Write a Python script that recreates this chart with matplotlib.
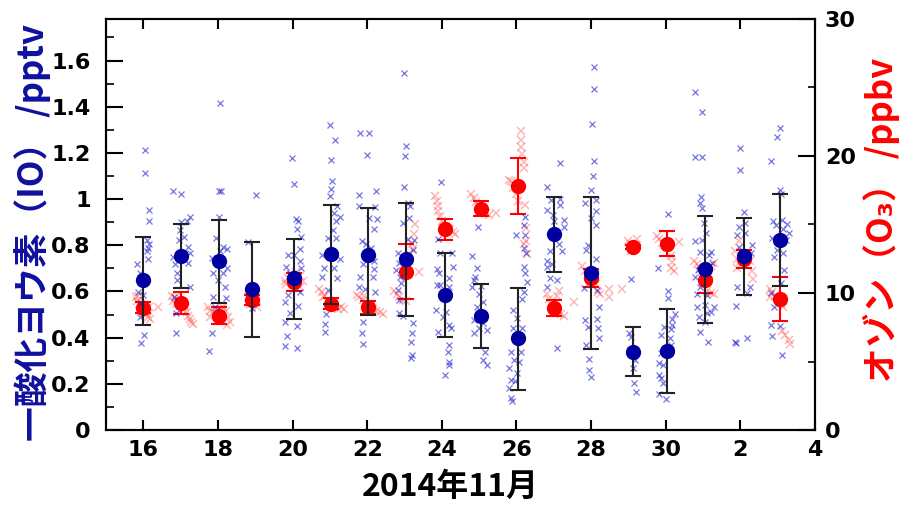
import numpy as np
import matplotlib
matplotlib.use('Agg')
import matplotlib.pyplot as plt
from matplotlib.ticker import MultipleLocator

# x = day number counted from 0 Nov 2014 (Dec 1 -> 31)
day_mean = [16.00, 17.02, 18.02, 18.91, 20.05, 21.02, 22.01, 23.04, 24.08,
            25.05, 26.05, 27.01, 28.01, 29.12, 30.02, 31.06, 32.09, 33.05]

# daily IO (pptv) mean and error bar ends
io_mean = [0.650, 0.755, 0.732, 0.609, 0.657, 0.761, 0.758, 0.741, 0.585,
           0.495, 0.397, 0.848, 0.682, 0.339, 0.342, 0.696, 0.754, 0.823]
io_lo = [0.455, 0.614, 0.549, 0.402, 0.481, 0.545, 0.498, 0.494, 0.402,
         0.357, 0.173, 0.683, 0.351, 0.234, 0.159, 0.462, 0.585, 0.625]
io_hi = [0.838, 0.893, 0.910, 0.813, 0.828, 0.975, 0.960, 0.982, 0.765,
         0.633, 0.617, 1.011, 1.011, 0.445, 0.523, 0.927, 0.917, 1.021]

# daily O3 (ppbv) mean and error
o3_mean = [8.91, 9.27, 8.35, 9.49, 10.80, 9.20, 8.95, 11.55, 14.65,
           16.14, 17.79, 8.91, 11.09, 13.36, 13.60, 10.94, 12.47, 9.56]
o3_err = [0.40, 0.80, 0.62, 0.36, 0.65, 0.40, 0.45, 2.00, 0.76,
          0.55, 2.03, 0.58, 0.63, 0.15, 0.92, 0.92, 0.68, 1.58]

# individual IO measurements
io_t = [16.04, 16.04, 16.16, 16.14, 16.11, 16.14, 16.12, 16.09, 16.13, 15.84, 15.91, 15.86, 16.00, 15.95, 15.91, 16.02, 15.93,
        16.80, 17.02, 17.25, 17.02, 17.16, 16.98, 17.09, 16.96, 17.20, 17.25, 16.80, 17.20, 16.85, 16.91, 17.25, 16.83, 16.87, 16.87, 16.91,
        18.05, 18.02, 18.07, 18.03, 17.96, 18.14, 18.24, 17.83, 18.05, 18.23, 17.87, 18.14, 18.00, 18.18, 17.87, 18.21, 17.91, 17.83, 17.76,
        19.03, 18.80, 18.91,
        19.99, 20.03, 20.08, 20.14, 20.12, 20.23, 20.21, 19.88, 20.05, 19.83, 20.21, 20.23, 19.92, 20.19, 19.88, 19.81, 20.14, 19.92, 19.79, 20.12, 19.85, 19.80, 20.11,
        21.00, 21.15, 21.04, 21.07, 21.02, 21.00, 21.20, 21.26, 21.12, 21.17, 21.08, 21.17, 20.94, 21.26, 20.78, 20.84, 21.12, 20.78, 21.20, 20.94, 20.90, 20.87, 20.87,
        21.81, 22.06, 21.99, 21.79, 22.24, 21.77, 22.22, 22.06, 22.26, 22.19, 21.86, 21.97, 22.10, 22.19, 21.88, 22.19, 21.81, 22.15, 21.77, 21.95, 22.22, 21.90, 21.86, 21.88,
        22.99, 23.04, 23.02, 22.98, 23.08, 23.16, 23.13, 22.95, 23.26, 23.08, 23.22, 22.82, 22.86, 22.77, 22.88, 22.91, 22.82, 22.86, 22.84, 22.95, 23.22, 23.20, 23.17, 23.20, 23.17,
        23.99, 23.89, 23.95, 24.27, 23.86, 24.29, 23.93, 24.18, 23.86, 23.96, 24.20, 23.84, 24.11, 24.02, 24.20, 24.24, 23.91, 24.18, 24.16, 24.20, 24.18, 24.09,
        24.97, 24.82, 24.94, 24.89, 24.85, 24.82, 25.04, 25.00, 25.09, 24.94, 24.87, 25.09, 25.00, 25.21, 24.87, 25.15, 25.09, 25.21,
        26.23, 26.20, 25.98, 26.22, 26.19, 26.25, 26.19, 26.23, 26.27, 26.19, 26.16, 25.92, 26.01, 26.16, 25.92, 25.85, 26.11, 25.94, 26.07, 25.80, 26.01, 25.85, 25.96, 25.80, 25.86, 25.87,
        27.16, 26.81, 27.17, 26.92, 27.17, 26.81, 26.99, 27.26, 27.01, 27.26, 26.96, 27.14, 27.23, 26.90, 26.81, 26.96, 26.81, 26.90, 27.08, 26.83, 27.09,
        28.07, 28.07, 28.03, 28.09, 28.05, 28.00, 28.12, 27.83, 28.14, 27.99, 28.14, 27.85, 27.92, 28.12, 27.81, 28.16, 28.21, 27.83, 28.16, 28.19, 27.92, 28.21, 27.87, 27.94, 27.94, 27.99,
        29.06, 29.01, 29.06, 29.17, 29.12, 29.14, 29.19, 29.03,
        30.06, 29.80, 30.06, 30.06, 30.24, 30.17, 30.17, 29.95, 30.15, 30.12, 29.86, 30.15, 29.88, 29.83, 29.92, 29.81, 29.88, 29.92, 29.83, 30.01,
        30.79, 30.97, 30.79, 30.97, 30.95, 30.93, 30.97, 31.02, 31.09, 30.79, 30.97, 30.91, 31.20, 31.15, 31.24, 30.86, 30.79, 30.93, 30.84, 31.11, 30.84, 31.06, 31.28, 30.88, 31.11, 31.20, 31.06, 30.93, 31.12,
        31.99, 31.99, 32.09, 32.13, 31.95, 32.13, 31.91, 32.31, 31.95, 32.28, 31.91, 32.25, 32.18, 31.89, 31.86, 31.89, 32.18,
        33.05, 32.99, 32.82, 33.05, 33.08, 32.87, 33.11, 32.96, 33.24, 33.14, 33.29, 32.84, 33.23, 33.08, 32.99, 33.15, 32.89, 33.17, 33.08, 32.82, 32.89, 32.82, 33.07, 32.84, 33.11]
io_v = [1.213, 1.115, 0.953, 0.905, 0.823, 0.806, 0.789, 0.777, 0.741, 0.718, 0.679, 0.597, 0.585, 0.549, 0.488, 0.410, 0.376,
        1.033, 1.022, 0.924, 0.900, 0.903, 0.867, 0.838, 0.823, 0.794, 0.765, 0.751, 0.722, 0.719, 0.679, 0.621, 0.578, 0.506, 0.422, 0.650,
        1.415, 1.036, 1.033, 0.924, 0.830, 0.794, 0.783, 0.744, 0.777, 0.701, 0.679, 0.679, 0.650, 0.621, 0.578, 0.571, 0.534, 0.419, 0.344,
        1.017, 0.816, 0.527,
        1.177, 1.064, 0.914, 0.903, 0.870, 0.838, 0.784, 0.758, 0.758, 0.708, 0.732, 0.701, 0.679, 0.597, 0.585, 0.556, 0.537, 0.506, 0.469, 0.451, 0.407, 0.364, 0.354,
        1.319, 1.256, 1.170, 1.078, 1.043, 1.015, 0.972, 0.924, 0.939, 0.903, 0.867, 0.830, 0.830, 0.741, 0.758, 0.701, 0.701, 0.664, 0.657, 0.607, 0.503, 0.459, 0.426,
        1.285, 1.285, 1.192, 1.017, 1.036, 0.972, 0.965, 0.917, 0.914, 0.871, 0.819, 0.806, 0.787, 0.734, 0.719, 0.699, 0.662, 0.662, 0.621, 0.610, 0.597, 0.469, 0.419, 0.371,
        1.546, 1.231, 1.187, 1.054, 0.982, 0.972, 0.917, 0.896, 0.823, 0.826, 0.780, 0.765, 0.725, 0.693, 0.662, 0.636, 0.607, 0.563, 0.508, 0.494, 0.462, 0.419, 0.383, 0.325, 0.311,
        1.072, 0.828, 0.765, 0.765, 0.699, 0.708, 0.679, 0.657, 0.628, 0.628, 0.618, 0.520, 0.513, 0.488, 0.455, 0.441, 0.426, 0.368, 0.339, 0.296, 0.282, 0.238,
        0.877, 0.755, 0.701, 0.664, 0.650, 0.621, 0.624, 0.588, 0.556, 0.534, 0.477, 0.462, 0.441, 0.433, 0.419, 0.339, 0.303, 0.282,
        0.924, 0.888, 0.845, 0.845, 0.787, 0.765, 0.708, 0.679, 0.643, 0.599, 0.566, 0.520, 0.484, 0.441, 0.441, 0.339, 0.339, 0.303, 0.296, 0.267, 0.246, 0.217, 0.214, 0.181, 0.137, 0.126,
        1.158, 1.054, 1.000, 0.997, 0.975, 0.953, 0.932, 0.910, 0.903, 0.881, 0.845, 0.806, 0.777, 0.776, 0.734, 0.719, 0.708, 0.657, 0.650, 0.621, 0.354,
        1.574, 1.477, 1.325, 1.166, 1.098, 1.040, 0.994, 0.985, 0.950, 0.920, 0.888, 0.780, 0.802, 0.740, 0.614, 0.607, 0.532, 0.477, 0.480, 0.441, 0.448, 0.397, 0.368, 0.306, 0.260, 0.231,
        0.653, 0.419, 0.404, 0.303, 0.267, 0.202, 0.166, 0.347,
        0.935, 0.703, 0.604, 0.571, 0.503, 0.480, 0.455, 0.445, 0.436, 0.397, 0.412, 0.368, 0.332, 0.289, 0.282, 0.238, 0.224, 0.202, 0.156, 0.133,
        1.463, 1.377, 1.184, 1.184, 1.011, 0.982, 0.960, 0.898, 0.855, 0.820, 0.823, 0.773, 0.773, 0.758, 0.725, 0.693, 0.664, 0.621, 0.589, 0.585, 0.534, 0.542, 0.534, 0.491, 0.506, 0.513, 0.469, 0.426, 0.383,
        1.220, 1.124, 0.946, 0.898, 0.881, 0.852, 0.845, 0.802, 0.794, 0.765, 0.621, 0.621, 0.592, 0.537, 0.383, 0.376, 0.397,
        1.307, 1.268, 1.163, 1.040, 1.022, 0.907, 0.910, 0.888, 0.893, 0.870, 0.852, 0.830, 0.823, 0.809, 0.780, 0.765, 0.751, 0.693, 0.636, 0.592, 0.534, 0.455, 0.451, 0.407, 0.325]

# individual O3 measurements
o3_t = [15.80, 15.84, 15.89, 15.93, 15.98, 16.04, 16.09, 16.13, 16.18, 16.40, 15.86, 16.16,
        16.76, 16.80, 16.89, 16.98, 17.11, 17.16, 17.20, 17.25, 17.29, 16.85, 17.05, 17.32,
        17.74, 17.80, 17.87, 17.94, 18.05, 18.14, 18.21, 18.27, 18.23, 18.32, 17.78, 18.00,
        18.81, 18.88, 18.97, 19.05, 18.85,
        19.79, 19.88, 19.96, 20.10, 20.19, 20.28, 20.01, 20.19, 19.83,
        20.72, 20.78, 20.86, 20.94, 21.03, 21.12, 21.21, 21.30, 21.39, 20.81,
        21.72, 21.79, 21.88, 21.97, 22.06, 22.15, 22.24, 22.33, 22.42, 21.92,
        22.73, 22.79, 22.86, 22.95, 23.04, 23.13, 23.20, 23.26, 23.29, 23.24, 23.40, 23.08,
        23.82, 23.86, 23.89, 23.91, 23.95, 24.00, 24.11, 24.20, 24.29, 24.36,
        24.78, 24.85, 24.91, 24.97, 25.09, 25.18, 25.27, 25.45,
        26.11, 26.11, 26.13, 26.16, 26.19, 26.20, 25.85, 25.92, 25.98, 26.03, 26.22, 26.25, 26.25, 26.27, 26.20, 25.80,
        26.81, 26.87, 26.93, 27.00, 27.09, 27.18, 27.27, 27.14, 27.08, 27.54,
        27.76, 27.83, 27.92, 28.03, 28.12, 28.19, 28.25, 28.48, 28.49, 28.83,
        28.99, 29.06, 29.12, 29.19, 29.23, 29.08,
        29.77, 29.83, 29.90, 29.97, 30.04, 30.13, 30.17, 30.21, 30.35, 30.15,
        30.75, 30.84, 30.93, 31.06, 31.20, 31.28, 31.11, 31.20, 31.28, 31.15,
        31.86, 31.91, 32.00, 32.09, 32.18, 32.26, 32.31, 32.34, 31.95, 31.91,
        32.78, 32.84, 32.93, 33.02, 33.08, 33.14, 33.11, 33.20, 33.29, 33.33, 32.80]
o3_v = [9.68, 9.44, 9.20, 8.96, 8.84, 8.71, 8.47, 8.23, 8.11, 8.96, 9.80, 8.96,
        9.80, 9.44, 9.20, 9.08, 8.96, 8.60, 8.35, 8.11, 7.87, 9.68, 8.84, 7.75,
        8.96, 8.71, 8.60, 8.47, 8.84, 8.96, 8.71, 8.23, 7.63, 7.87, 8.23, 8.11,
        9.68, 9.56, 9.32, 8.96, 9.20,
        10.89, 11.13, 11.38, 11.50, 11.25, 10.89, 10.65, 10.41, 10.65,
        10.29, 10.05, 9.80, 9.44, 9.20, 8.96, 8.84, 8.96, 8.84, 9.68,
        9.88, 9.68, 9.49, 9.20, 8.96, 8.84, 8.71, 8.60, 8.47, 9.80,
        10.17, 9.93, 9.68, 9.49, 9.39, 12.84, 13.56, 14.29, 15.01, 13.20, 11.50, 12.36,
        17.07, 16.71, 16.34, 15.98, 15.62, 15.25, 14.89, 14.65, 14.48, 14.33,
        17.24, 16.95, 16.66, 16.42, 16.10, 15.86, 15.69, 15.86,
        21.79, 21.19, 20.64, 20.11, 19.58, 19.14, 18.16, 17.68, 17.19, 16.71, 16.42, 14.73, 13.80, 12.84, 13.56, 18.28,
        9.93, 9.56, 9.20, 8.96, 8.71, 8.47, 8.35, 10.17, 9.80, 9.32,
        11.97, 11.60, 11.38, 11.01, 10.65, 10.05, 9.93, 10.29, 9.74, 10.29,
        13.80, 13.56, 13.32, 13.44, 13.92, 13.08,
        14.16, 13.92, 13.68, 13.51, 13.32, 12.72, 12.24, 11.62, 13.75, 11.86,
        12.34, 12.10, 11.86, 11.62, 11.98, 12.22, 10.17, 10.00, 9.93, 11.38,
        13.08, 12.48, 12.24, 12.36, 12.60, 12.36, 11.62, 11.01, 13.80, 11.86,
        10.29, 10.05, 9.80, 9.56, 9.20, 8.96, 7.26, 6.90, 6.54, 6.25, 9.68]

x_ticks = [16, 18, 20, 22, 24, 26, 28, 30, 32, 34]
x_labels = ['16', '18', '20', '22', '24', '26', '28', '30', '2', '4']
io_ticks = [0, 0.2, 0.4, 0.6, 0.8, 1.0, 1.2, 1.4, 1.6]
io_labels = ['0', '0.2', '0.4', '0.6', '0.8', '1', '1.2', '1.4', '1.6']
o3_ticks = [0, 10, 20, 30]

plt.rcParams['font.family'] = ['DejaVu Sans']
plt.rcParams['font.weight'] = 'bold'
cjk = ['Noto Sans CJK JP', 'DejaVu Sans']

fig = plt.figure(figsize=(9.01, 5.05), dpi=100)
ax = fig.add_axes([0.1176, 0.1485, 0.7870, 0.8139])
ax2 = ax.twinx()
ax.set_zorder(ax2.get_zorder() + 1)
ax.patch.set_visible(False)

# ozone (right axis)
ax2.plot(o3_t, o3_v, 'x', color='#ff3030', alpha=0.35, ms=5.5, mew=1.1)
ax2.errorbar(day_mean, o3_mean, yerr=o3_err, fmt='o', color='#ff0000', ms=10,
             elinewidth=1.5, capsize=6, capthick=1.5)

# IO (left axis)
io_mean_a = np.array(io_mean)
yerr = [io_mean_a - np.array(io_lo), np.array(io_hi) - io_mean_a]
ax.plot(io_t, io_v, 'x', color='#1a1acc', alpha=0.6, ms=4.5, mew=0.9)
ax.errorbar(day_mean, io_mean, yerr=yerr, fmt='none', ecolor='#222222',
            elinewidth=1.5, capsize=6, capthick=1.5)
ax.plot(day_mean, io_mean, 'o', color='#0000a0', ms=10)

ax.set_xlim(15, 34)
ax.set_ylim(0, 1.78)
ax2.set_ylim(0, 30)

ax.set_xticks(x_ticks)
ax.set_xticklabels(x_labels)
ax.set_yticks(io_ticks)
ax.set_yticklabels(io_labels)
ax.yaxis.set_minor_locator(MultipleLocator(0.1))
ax2.set_yticks(o3_ticks)
ax2.yaxis.set_minor_locator(MultipleLocator(5))

ax.tick_params(axis='x', direction='in', length=7, width=1.5, top=True,
               labelsize=16, pad=7)
ax.tick_params(axis='y', which='major', direction='in', length=12, width=1.5,
               labelsize=16, pad=11)
ax.tick_params(axis='y', which='minor', direction='in', length=6, width=1.2)
ax2.tick_params(axis='y', which='major', direction='in', length=12, width=1.5,
                labelsize=16, pad=7)
ax2.tick_params(axis='y', which='minor', direction='in', length=5, width=1.2)
for a in (ax, ax2):
    for s in a.spines.values():
        s.set_linewidth(1.5)

fig.text(0.036, 0.54, '一酸化ヨウ素（IO） /pptv', rotation=90, color='#1010a0',
         fontsize=25, fontweight='bold', family=cjk, ha='center', va='center')
fig.text(0.978, 0.565, 'オゾン（O₃） /ppbv', rotation=90, color='#ff0000',
         fontsize=25, fontweight='bold', family=cjk, ha='center', va='center')
fig.text(0.5, 0.035, '2014年11月', color='black', fontsize=23,
         fontweight='bold', family=cjk, ha='center', va='center')

fig.savefig('out.png', dpi=100)
